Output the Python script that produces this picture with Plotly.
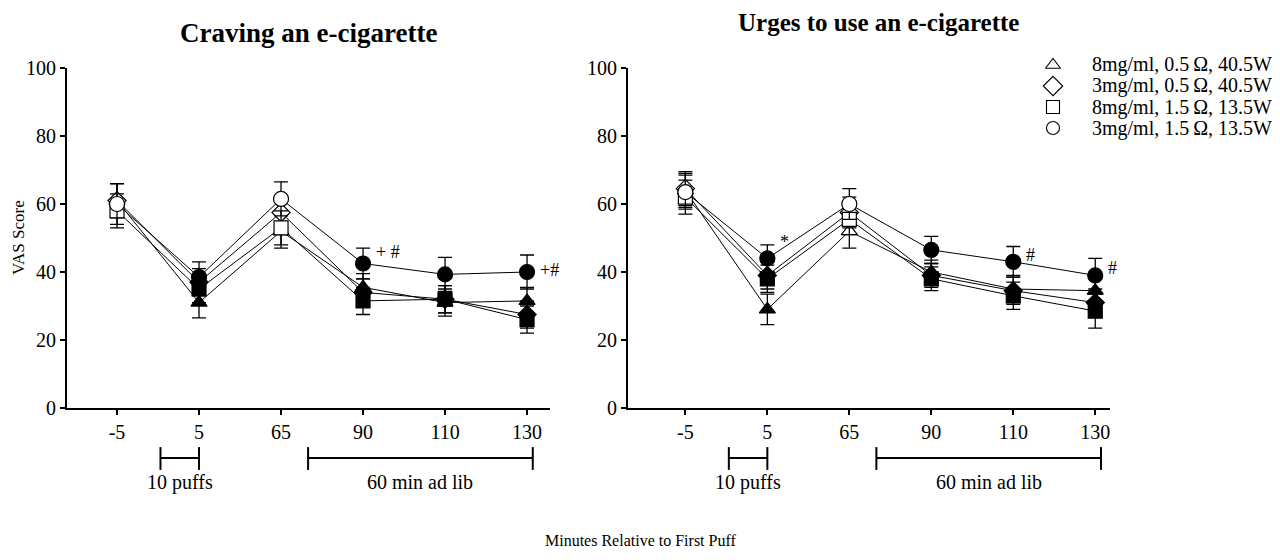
import plotly.graph_objects as go

x_labels = ["-5", "5", "65", "90", "110", "130"]
series_names = ["8mg/ml, 0.5\u2009\u03a9, 40.5W", "3mg/ml, 0.5\u2009\u03a9, 40.5W",
                "8mg/ml, 1.5\u2009\u03a9, 13.5W", "3mg/ml, 1.5\u2009\u03a9, 13.5W"]
symbols = ["triangle-up", "diamond", "square", "circle"]
open_points = [True, False, True, False, False, False]  # -5 and 65 drawn open

# Craving an e-cigarette
crave_A = [61, 31, 52, 35.5, 31, 31.5]
crave_D = [61, 37, 57.5, 34, 32, 27.5]
crave_S = [58, 35, 53, 31.5, 32, 26]
crave_C = [60, 38.5, 61.5, 42.5, 39.3, 40]
crave_A_err = [5, 4.5, 5, 4, 4, 4]
crave_D_err = [5, 4, 5, 4, 4, 4]
crave_S_err = [5, 4, 5, 4, 4, 4]
crave_C_err = [6, 4.5, 5, 4.5, 5, 5]

# Urges to use an e-cigarette
urge_A = [64, 29, 52, 40, 35, 34.5]
urge_D = [64.5, 39, 57.5, 39, 34.5, 31]
urge_S = [62, 38, 55.5, 38, 33, 28.5]
urge_C = [63.5, 44, 60, 46.5, 43, 39]
urge_A_err = [5, 4.5, 5, 3.5, 4, 4]
urge_D_err = [5, 4, 4.5, 3.5, 4, 4]
urge_S_err = [5, 4, 4.5, 3.5, 4, 5]
urge_C_err = [5, 4, 4.5, 4, 4.5, 5]

FONT = "Liberation Serif"
W, H = 1280, 560
OX, OY = 8, 8  # page body margin compensation
xpos = list(range(len(x_labels)))
fill_colors = ["white" if o else "black" for o in open_points]


def px_x(px):
    return (px - OX) / W


def px_y(py):
    return 1 - (py - OY) / H


fig = go.Figure()

panels = [
    ("x", "y", [crave_A, crave_D, crave_S, crave_C],
     [crave_A_err, crave_D_err, crave_S_err, crave_C_err]),
    ("x2", "y2", [urge_A, urge_D, urge_S, urge_C],
     [urge_A_err, urge_D_err, urge_S_err, urge_C_err]),
]
for xa, ya, vals, errs in panels:
    for i in range(4):
        fig.add_trace(go.Scatter(
            x=xpos, y=vals[i], xaxis=xa, yaxis=ya, mode="lines+markers",
            showlegend=False, name=series_names[i],
            line=dict(color="black", width=1),
            marker=dict(symbol=symbols[i], size=15 if symbols[i] == "circle" else 14,
                        color=fill_colors, line=dict(color="black", width=1.2)),
            error_y=dict(type="data", array=errs[i], color="black", thickness=1.3, width=7),
        ))

# legend keys on a hidden page-pixel overlay axis
legend_px_x = 1053
legend_rows = [65 + 21 * k for k in range(4)]
for k in range(4):
    fig.add_trace(go.Scatter(
        x=[legend_px_x], y=[legend_rows[k]], xaxis="x3", yaxis="y3", mode="markers",
        showlegend=False, hoverinfo="skip", cliponaxis=False,
        marker=dict(symbol=symbols[k] + "-open", size=13 if symbols[k] != "diamond" else 15,
                    color="black", line=dict(color="black", width=1.1)),
    ))

axis_common = dict(showline=True, linecolor="black", linewidth=2, ticks="outside",
                   tickcolor="black", tickwidth=2, ticklen=5, showgrid=False,
                   zeroline=False, automargin=False,
                   tickfont=dict(family=FONT, size=20, color="black"))

fig.update_layout(
    width=W, height=H, plot_bgcolor="rgba(0,0,0,0)", paper_bgcolor="white",
    template="none",
    margin=dict(l=0, r=0, t=0, b=0, pad=0, autoexpand=False),
    xaxis=dict(domain=[px_x(67), px_x(550)], range=[-0.61, 5.28], tickvals=xpos,
               ticktext=x_labels, anchor="y", **axis_common),
    yaxis=dict(domain=[px_y(408), px_y(68)], range=[0, 100], tickvals=[0, 20, 40, 60, 80, 100],
               anchor="x", **axis_common),
    xaxis2=dict(domain=[px_x(628), px_x(1110)], range=[-0.7, 5.18], tickvals=xpos,
                ticktext=x_labels, anchor="y2", **axis_common),
    yaxis2=dict(domain=[px_y(408), px_y(68)], range=[0, 100], tickvals=[0, 20, 40, 60, 80, 100],
                anchor="x2", **axis_common),
    xaxis3=dict(domain=[0, 1], range=[OX, W + OX], visible=False, anchor="y3", fixedrange=True),
    yaxis3=dict(domain=[0, 1], range=[H + OY, OY], visible=False, anchor="x3", fixedrange=True),
    showlegend=False,
)

ann = []
for text, (px, py), size, extra in [
    ("<b>Craving an e-cigarette</b>", (308, 33), 27, {}),
    ("<b>Urges to use an e-cigarette</b>", (878, 22), 25, {}),
    ("VAS Score", (18, 238), 17, {"textangle": -90}),
    ("Minutes Relative to First Puff", (640, 540), 16, {}),
]:
    ann.append(dict(text=text, x=px_x(px), y=px_y(py), xref="paper", yref="paper",
                    xanchor="center", yanchor="middle", showarrow=False,
                    font=dict(family=FONT, size=size, color="black"), **extra))

for k in range(4):
    ann.append(dict(text=series_names[k], x=px_x(1090), y=px_y(legend_rows[k]), xref="paper",
                    yref="paper", xanchor="left", yanchor="middle", showarrow=False,
                    font=dict(family=FONT, size=20, color="black")))

# significance markers: (axis, axis, category index, value, label, vertical shift in px)
sig = [("x", "y", 3, crave_C[3], "+ #", 11), ("x", "y", 5, crave_C[5], "+#", 2),
       ("x2", "y2", 1, urge_C[1], "*", 16), ("x2", "y2", 4, urge_C[4], "#", 7),
       ("x2", "y2", 5, urge_C[5], "#", 7)]
for xa, ya, xi, yv, t, ys in sig:
    ann.append(dict(text=t, x=xi, y=yv, xref=xa, yref=ya, xanchor="left", yanchor="middle",
                    xshift=11, yshift=ys, showarrow=False,
                    font=dict(family=FONT, size=18, color="black")))

# phase brackets below axes
brackets = [("x", 0.53, 1.0, "10 puffs"), ("x", 2.33, 5.07, "60 min ad lib"),
            ("x2", 0.53, 1.0, "10 puffs"), ("x2", 2.33, 5.07, "60 min ad lib")]
shapes = []
for xa, x0, x1, label in brackets:
    yr = "y domain" if xa == "x" else "y2 domain"
    shapes.append(dict(type="line", xref=xa, yref=yr, x0=x0, x1=x1, y0=-0.147, y1=-0.147,
                       line=dict(color="black", width=2)))
    for xx in (x0, x1):
        shapes.append(dict(type="line", xref=xa, yref=yr, x0=xx, x1=xx, y0=-0.115, y1=-0.182,
                           line=dict(color="black", width=2)))
    ann.append(dict(text=label, x=(x0 + x1) / 2, y=-0.18, xref=xa, yref=yr, yanchor="top",
                    xanchor="center", showarrow=False,
                    font=dict(family=FONT, size=20, color="black")))

fig.update_layout(annotations=ann, shapes=shapes)
fig.write_html("out.html")
